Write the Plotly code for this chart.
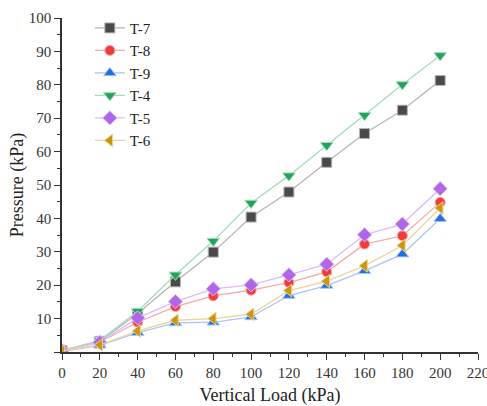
import plotly.graph_objects as go

# Vertical load steps (kPa)
load = [0, 20, 40, 60, 80, 100, 120, 140, 160, 180, 200]

# Measured pressure (kPa) for each test
t7 = [0.4, 3.2, 11.5, 21.0, 29.9, 40.4, 47.9, 56.8, 65.4, 72.4, 81.3]
t8 = [0.3, 3.0, 8.9, 13.6, 16.8, 18.5, 20.8, 24.0, 32.3, 34.8, 44.8]
t9 = [0.2, 2.0, 5.8, 8.7, 8.9, 10.5, 16.9, 19.9, 24.3, 29.3, 39.9]
t4 = [0.4, 3.5, 12.2, 23.1, 33.2, 44.6, 52.8, 61.9, 70.9, 80.1, 88.8]
t5 = [0.4, 2.9, 10.2, 15.1, 18.9, 20.1, 23.1, 26.3, 35.1, 38.3, 48.9]
t6 = [0.3, 2.1, 6.3, 9.5, 10.0, 11.3, 18.4, 21.2, 25.8, 31.9, 43.1]

x_ticks = list(range(0, 221, 20))
y_ticks = list(range(0, 101, 10))

names = ["T-7", "T-8", "T-9", "T-4", "T-5", "T-6"]
series = [t7, t8, t9, t4, t5, t6]
symbols = ["square", "circle", "triangle-up", "triangle-down", "diamond", "triangle-left"]
marker_colors = ["#4a4a4a", "#f23c3c", "#1f6fe0", "#22a35a", "#b066e6", "#c9960c"]
line_colors = ["#b5b5b5", "#f5a8a8", "#a9c6f2", "#a6dbbb", "#dcbcf5", "#ecd49a"]
sizes = [10, 10, 11, 11, 11, 11]

fig = go.Figure()
for name, ys, sym, mc, lc, sz in zip(names, series, symbols, marker_colors, line_colors, sizes):
    fig.add_trace(go.Scatter(
        x=load, y=ys, name=name, mode="lines+markers",
        line=dict(color=lc, width=1.3),
        marker=dict(symbol=sym, size=sz, color=mc, line=dict(color=lc, width=1)),
    ))

serif = "Liberation Serif"
y_text = [""] + [str(v) for v in y_ticks[1:]]

fig.update_layout(
    width=487, height=406,
    margin=dict(l=62, r=9, t=18, b=54),
    paper_bgcolor="white", plot_bgcolor="white",
    font=dict(family=serif, size=15, color="#222"),
    showlegend=True,
    legend=dict(
        x=0.067, y=1.019, xanchor="left", yanchor="top",
        font=dict(family=serif, size=15, color="#222"),
        bgcolor="rgba(0,0,0,0)", tracegroupgap=0, itemwidth=30,
    ),
    xaxis=dict(
        range=[0, 220], tickmode="array", tickvals=x_ticks,
        showgrid=False, zeroline=False, ticklabeloverflow="allow", automargin=False,
        showline=True, linecolor="#333", linewidth=1.5,
        ticks="outside", ticklen=6, tickwidth=1.3, tickcolor="#333",
        minor=dict(tickmode="linear", tick0=0, dtick=10, ticks="outside", ticklen=3, tickwidth=1.2, tickcolor="#333"),
        tickfont=dict(family=serif, size=15, color="#333"),
        title=dict(text="Vertical Load (kPa)", font=dict(family=serif, size=18, color="#222"), standoff=10),
    ),
    yaxis=dict(
        range=[0, 100], tickmode="array", tickvals=y_ticks, ticktext=y_text,
        showgrid=False, zeroline=False, automargin=False,
        showline=True, linecolor="#333", linewidth=1.5,
        ticks="outside", ticklen=6, tickwidth=1.3, tickcolor="#333",
        minor=dict(tickmode="linear", tick0=0, dtick=5, ticks="outside", ticklen=3, tickwidth=1.2, tickcolor="#333"),
        tickfont=dict(family=serif, size=15, color="#333"),
        title=dict(text="Pressure (kPa)", font=dict(family=serif, size=18, color="#222"), standoff=0),
    ),
)

fig.write_html("out.html")
